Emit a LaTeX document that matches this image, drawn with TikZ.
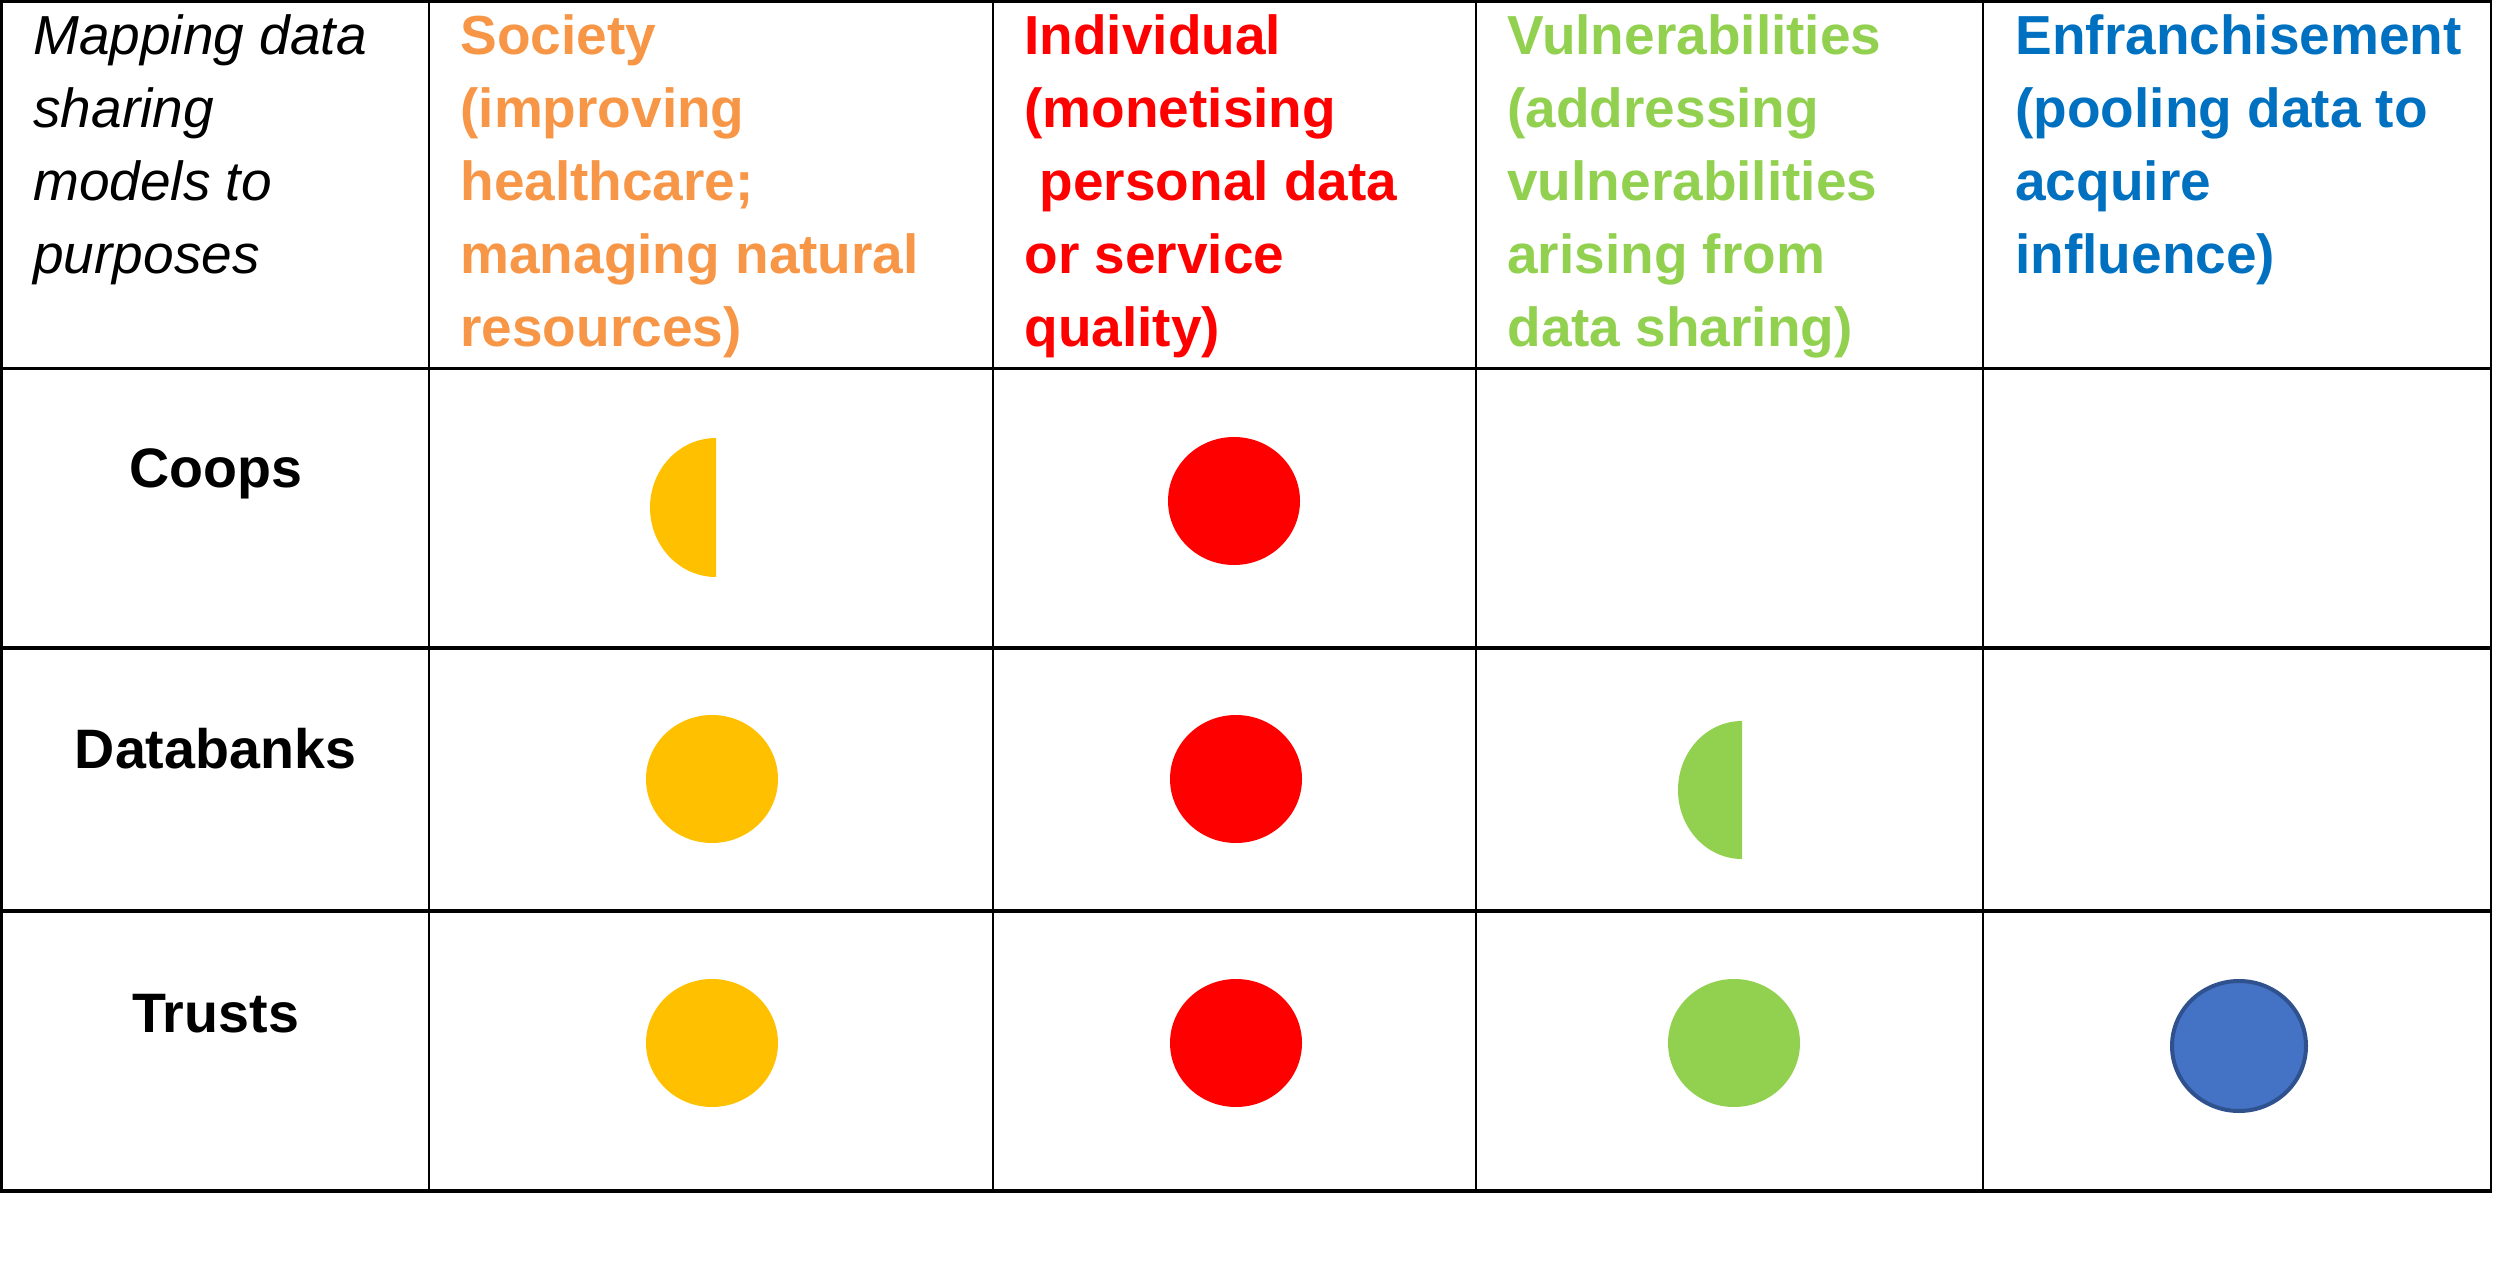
\documentclass[tikz,border=0pt]{standalone}
\usepackage{fontspec}
\setmainfont{Liberation Sans}
\definecolor{txtorange}{HTML}{F79646}
\definecolor{txtred}{HTML}{FF0000}
\definecolor{txtgreen}{HTML}{92D050}
\definecolor{txtblue}{HTML}{0070C0}
\definecolor{dotyellow}{HTML}{FFC000}
\definecolor{dotred}{HTML}{FF0000}
\definecolor{dotgreen}{HTML}{92D050}
\definecolor{dotblue}{HTML}{4472C4}
\definecolor{dotblueedge}{HTML}{2F528F}
\newcommand\hdrstrut{\rule{0pt}{22bp}}
\begin{document}
\begin{tikzpicture}[x=0.5bp,y=-0.5bp,
  hdr/.style={anchor=north west, inner sep=0pt, align=left,
    font=\fontsize{27.5bp}{36.5bp}\selectfont\bfseries},
  rowlab/.style={anchor=base, inner sep=0pt,
    font=\fontsize{27.8bp}{36.5bp}\selectfont\bfseries},
  hrule/.style={line width=1.7bp, black},
  vrule/.style={line width=1.4bp, black},
  dot/.style={x radius=66, y radius=64}]
\useasboundingbox (0,0) rectangle (2500,1275);
\fill[white] (0,0) rectangle (2500,1275);

% grid
\foreach \yy in {1.5,368.5,648,911,1191}
  \draw[hrule] (0.5,\yy) -- (2492,\yy);
\foreach \xx in {1.5,429,993,1476,1983,2491}
  \draw[vrule] (\xx,0.5) -- (\xx,1192);

% header texts
\node[hdr, font=\fontsize{27.5bp}{36.5bp}\selectfont\itshape] (h0) at (33,10)
  {\hdrstrut Mapping data\\sharing\\models to\\purposes};
\node[hdr, text=txtorange] (h1) at (460,10)
  {\hdrstrut Society\\(improving\\healthcare;\\managing natural\\resources)};
\node[hdr, text=txtred] (h2) at (1024,10)
  {\hdrstrut Individual\\(monetising\\\hspace*{0.278em}personal data\\or service\\quality)};
\node[hdr, text=txtgreen] (h3) at (1507,10)
  {\hdrstrut Vulnerabilities\\(addressing\\vulnerabilities\\arising from\\data sharing)};
\node[hdr, text=txtblue] (h4) at (2015,10)
  {\hdrstrut Enfranchisement\\(pooling data to\\acquire\\influence)};

% row labels
\node[rowlab] (coops) at (215.5,488) {Coops};
\node[rowlab] (databanks) at (215.5,768) {Databanks};
\node[rowlab] (trusts) at (215.5,1032) {Trusts};

% Coops row
\fill[dotyellow] (716,438) arc[start angle=270, end angle=90, x radius=66, y radius=69.5] -- cycle;
\fill[dotred] (1234,501) ellipse[dot];

% Databanks row
\fill[dotyellow] (712,779) ellipse[dot];
\fill[dotred] (1236,779) ellipse[dot];
\fill[dotgreen] (1742,721) arc[start angle=270, end angle=90, x radius=64, y radius=69] -- cycle;

% Trusts row
\fill[dotyellow] (712,1043) ellipse[dot];
\fill[dotred] (1236,1043) ellipse[dot];
\fill[dotgreen] (1734,1043) ellipse[dot];
\filldraw[fill=dotblue, draw=dotblueedge, line width=2bp] (2239,1046) ellipse[x radius=67, y radius=65];
\end{tikzpicture}
\end{document}
